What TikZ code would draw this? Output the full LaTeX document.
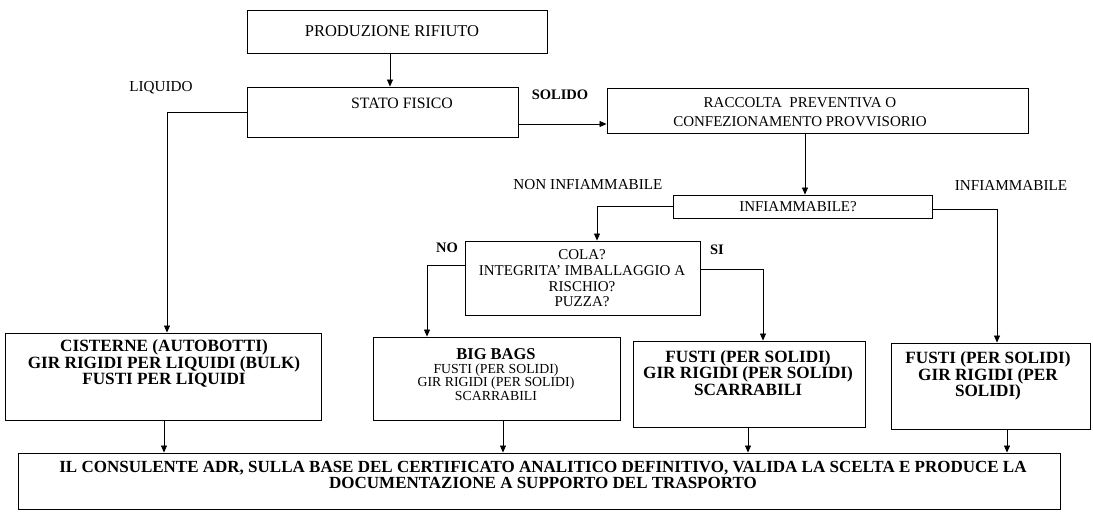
\documentclass[tikz,border=0pt]{standalone}
\usepackage{fontspec}
\setmainfont{Liberation Serif}
\usetikzlibrary{arrows.meta}
\tikzset{
  bx/.style={draw, line width=0.9pt, inner sep=0pt},
  rt/.style={align=center, inner sep=0pt, font=\fontsize{15}{15.7}\selectfont},
  bt/.style={align=center, inner sep=0pt, font=\bfseries\fontsize{17.2}{16.5}\selectfont},
  lbl/.style={inner sep=0pt, font=\fontsize{15.2}{15}\selectfont},
  blbl/.style={inner sep=0pt, font=\bfseries\fontsize{14.5}{15}\selectfont},
  arr/.style={line width=0.8pt, -{Triangle[length=7pt,width=6pt]}},
}
\begin{document}
\begin{tikzpicture}[x=1pt,y=-1pt]
\useasboundingbox (0,0) rectangle (1093,520);
% boxes
\node[bx, minimum width=300pt, minimum height=43pt] (P) at (397,31.5) {};
\node[bx, minimum width=271pt, minimum height=50pt] (S) at (382.5,112) {};
\node[bx, minimum width=421pt, minimum height=45pt] (R) at (817.5,110.5) {};
\node[bx, minimum width=259pt, minimum height=23pt] (I) at (802.5,206.5) {};
\node[bx, minimum width=235pt, minimum height=74pt] (C) at (582.5,278) {};
\node[bx, minimum width=316pt, minimum height=87pt] (CIST) at (163,376.5) {};
\node[bx, minimum width=247pt, minimum height=83pt] (BIG) at (496.5,378.5) {};
\node[bx, minimum width=232pt, minimum height=86pt] (MID) at (749,384) {};
\node[bx, minimum width=199pt, minimum height=86pt] (RGT) at (990.5,386) {};
\node[bx, minimum width=1042pt, minimum height=56pt] (BOT) at (539,481) {};
% texts in boxes
\node[rt, font=\fontsize{16.5}{17}\selectfont] (Pt) at (392,31) {PRODUZIONE RIFIUTO};
\node[rt, font=\fontsize{15.8}{17}\selectfont] (St) at (402,103) {STATO FISICO};
\node[rt, font=\fontsize{15}{19}\selectfont] (Rt) at (800,112.5) {RACCOLTA\ \ PREVENTIVA O\\CONFEZIONAMENTO PROVVISORIO};
\node[rt] (It) at (798,207) {INFIAMMABILE?};
\node[rt] (Ct) at (582,278.5) {COLA?\\INTEGRITA' IMBALLAGGIO A\\RISCHIO?\\PUZZA?};
\node[bt] (CISTt) at (164,363.5) {CISTERNE (AUTOBOTTI)\\GIR RIGIDI PER LIQUIDI (BULK)\\FUSTI PER LIQUIDI};
\node[bt, font=\bfseries\fontsize{16.5}{16.5}\selectfont] (BIGa) at (496,354) {BIG BAGS};
\node[rt, font=\fontsize{13.8}{13.5}\selectfont] (BIGb) at (496,382) {FUSTI (PER SOLIDI)\\GIR RIGIDI (PER SOLIDI)\\SCARRABILI};
\node[bt] (MIDt) at (748,373) {FUSTI (PER SOLIDI)\\GIR RIGIDI (PER SOLIDI)\\SCARRABILI};
\node[bt] (RGTt) at (988,376) {FUSTI (PER SOLIDI)\\GIR RIGIDI (PER\\SOLIDI)};
\node[bt, font=\bfseries\fontsize{17}{16}\selectfont] (BOTt) at (543,475) {IL CONSULENTE ADR, SULLA BASE DEL CERTIFICATO ANALITICO DEFINITIVO, VALIDA LA SCELTA E PRODUCE LA\\DOCUMENTAZIONE A SUPPORTO DEL TRASPORTO};
% labels
\node[lbl] (lLiq) at (161,88) {LIQUIDO};
\node[blbl] (lSol) at (560,95) {SOLIDO};
\node[lbl] (lNon) at (588,185) {NON INFIAMMABILE};
\node[lbl] (lInf) at (1011,186) {INFIAMMABILE};
\node[blbl] (lNo) at (447,248) {NO};
\node[blbl] (lSi) at (717,250) {SI};
% connectors
\draw[arr] ([xshift=-7pt]P.south) -- ([xshift=-7pt]P.south |- S.north);
\draw[arr] (S.west) -| ([xshift=4pt]CIST.north);
\draw[arr] ([yshift=-12pt]S.east) -- ([yshift=-12pt]S.east -| R.west);
\draw[arr] ([xshift=-12.5pt]R.south) -- ([xshift=-12.5pt]R.south |- I.north);
\draw[arr] (I.west) -| ([xshift=14.5pt]C.north);
\draw[arr] ([yshift=-2.5pt]I.east) -| ([xshift=6.5pt]RGT.north);
\draw[arr] ([yshift=13pt]C.west) -| ([xshift=-69.5pt]BIG.north);
\draw[arr] ([yshift=9pt]C.east) -| ([xshift=14pt]MID.north);
\draw[arr] ([xshift=1pt]CIST.south) -- ([xshift=1pt]CIST.south |- BOT.north);
\draw[arr] ([xshift=6.5pt]BIG.south) -- ([xshift=6.5pt]BIG.south |- BOT.north);
\draw[arr] ([xshift=-1pt]MID.south) -- ([xshift=-1pt]MID.south |- BOT.north);
\draw[arr] ([xshift=16.5pt]RGT.south) -- ([xshift=16.5pt]RGT.south |- BOT.north);
\end{tikzpicture}
\end{document}
